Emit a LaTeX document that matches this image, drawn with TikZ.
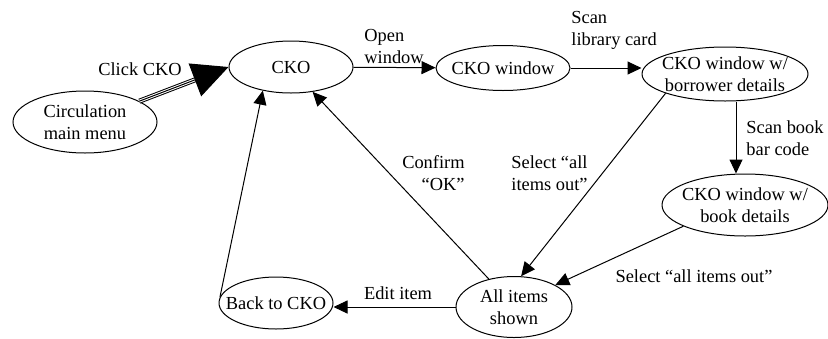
\documentclass[tikz,border=0pt]{standalone}
\usepackage{fontspec}
\setmainfont{Liberation Serif}
\usetikzlibrary{shapes.geometric,arrows.meta}

\begin{document}
\begin{tikzpicture}[x=0.5pt, y=-0.5pt,
		state/.style={draw, ellipse, inner sep=-6pt, line width=0.5pt, align=center},
		lbl/.style={inner sep=0pt},
		flow/.style={line width=0.5pt, -{Triangle[length=7pt,width=6.5pt]}},
		every node/.append style={font=\fontsize{9.2}{11}\selectfont}]
		\useasboundingbox (0,0) rectangle (828,338);
		% states
		\node[state, minimum width=72pt, minimum height=31pt] (circ) at (85,122) {Circulation\\main menu};
		\node[state, minimum width=62pt, minimum height=26pt] (cko) at (291,67) {CKO};
		\node[state, minimum width=67pt, minimum height=22.5pt] (ckow) at (503,68) {CKO window};
		\node[state, minimum width=83pt, minimum height=27pt] (bdet) at (725,74) {CKO window w/\\borrower details};
		\node[state, minimum width=83pt, minimum height=31pt] (book) at (745,205) {CKO window w/\\book details};
		\node[state, minimum width=58pt, minimum height=30.5pt] (all) at (514,307) {All items\\shown};
		\node[state, minimum width=57pt, minimum height=26pt] (back) at (276,303) {Back to CKO};
		\coordinate (bc) at (736,0);
		% triple arrow into CKO
		\draw[line width=2.5pt, shorten >=17pt] (circ) -- (cko.west);
		\draw[white, line width=1.5pt, shorten >=17pt] (circ) -- (cko.west);
		\draw[line width=0.5pt, -{Triangle[length=18pt,width=17.5pt]}] (circ) -- (cko.west);
		\node[lbl] (click) at (140,69) {Click CKO};
		% transitions
		\draw[flow] (cko) -- (ckow);
		\node[lbl, anchor=west, align=left] (open) at (364,46) {Open\\window};
		\draw[flow] (ckow) -- (ckow -| bdet.west);
		\node[lbl, anchor=west, align=left] (scan) at (571,30) {Scan\\library card};
		\draw[flow] (bdet.south -| bc) -- (book.north -| bc);
		\node[lbl, anchor=west, align=left] (scanb) at (746,138) {Scan book\\bar code};
		\draw[flow] (bdet.198) -- (all.77);
		\node[lbl, anchor=west, align=left] (sel1) at (511,173) {Select “all\\items out”};
		\draw[flow] (book.199) -- (all.28);
		\node[lbl] (sel2) at (694,276) {Select “all items out”};
		\draw[flow] (all.west) -- (all.west -| back.east);
		\node[lbl] (edit) at (398,293) {Edit item};
		\draw[flow] (all.132) -- (cko.311);
		\node[lbl, anchor=east, align=right] (conf) at (465,173) {Confirm\\“OK”};
		\draw[flow] (back.174) -- (cko.220);
	\end{tikzpicture}
\end{document}
